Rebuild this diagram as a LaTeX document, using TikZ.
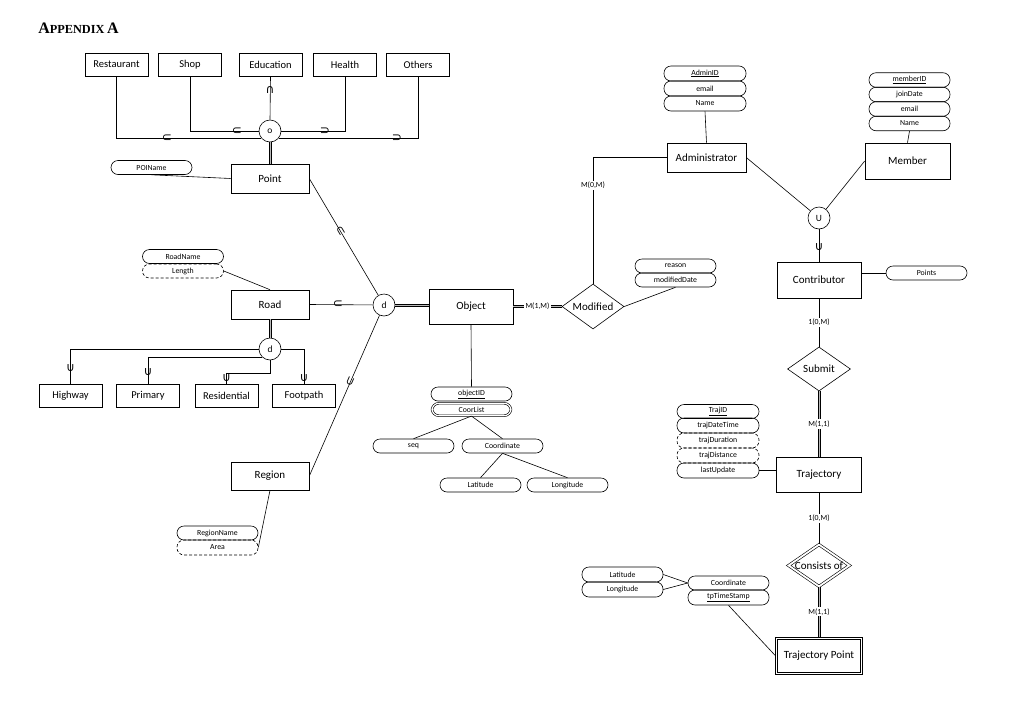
\documentclass[tikz,border=0pt]{standalone}
\usepackage{fontspec}
\setmainfont{Carlito}
\newfontfamily\titlefont{Liberation Serif}
\newfontfamily\symfont{DejaVu Sans}
\usetikzlibrary{shapes.geometric,calc}
\begin{document}
\begin{tikzpicture}[x=1pt,y=-1pt, line width=0.6pt,
 ent/.style={draw, rectangle, inner sep=0pt, font=\fontsize{11}{12}\selectfont},
 cat/.style={ent, minimum width=63pt, minimum height=23pt, font=\fontsize{10.5}{12}\selectfont},
 attr/.style={draw, rounded corners=7pt, inner sep=0pt, minimum width=81pt, minimum height=14pt, font=\fontsize{7.8}{9}\selectfont},
 dattr/.style={attr, densely dashed},
 spc/.style={draw, circle, minimum size=22pt, inner sep=0pt, font=\fontsize{9.5}{10}\selectfont},
 rel/.style={draw, diamond, inner sep=0pt, minimum width=62pt, minimum height=45pt},
 dblV/.style={draw=none,
   postaction={draw=gray!55, line width=1.6pt},
   postaction={draw, transform canvas={xshift=-1.1pt}},
   postaction={draw, transform canvas={xshift=1.1pt}}},
 dblH/.style={draw=none,
   postaction={draw=gray!55, line width=1.6pt},
   postaction={draw, transform canvas={yshift=-1.1pt}},
   postaction={draw, transform canvas={yshift=1.1pt}}},
 card/.style={fill=white, inner sep=1.2pt, font=\fontsize{7.8}{9}\selectfont},
 sym/.style={inner sep=0pt, font=\symfont\fontsize{12}{12}\selectfont},
]
\useasboundingbox (0,0) rectangle (1036,726);

% title
\node[anchor=base west, inner sep=0pt, font=\titlefont\bfseries] (title) at (38,33)
  {{\fontsize{16}{16}\selectfont A}{\fontsize{12.3}{13}\selectfont PPENDIX} {\fontsize{16}{16}\selectfont A}};

% ---------- POI categories ----------
\node[cat] (Restaurant) at (116.5,64.5) {Restaurant};
\node[cat] (Shop) at (190,64.5) {Shop};
\node[cat] (Education) at (270.5,64.5) {Education};
\node[cat] (Health) at (345,64.5) {Health};
\node[cat] (Others) at (418,64.5) {Others};
\node[spc] (oC) at (270,131) {o};
\node[ent, minimum width=78pt, minimum height=29pt] (Point) at (270,178.5) {Point};
\node[attr] (POIName) at (151.5,167.5) {POIName};

\draw (Restaurant.south) |- (oC.220);
\draw (Shop.south) |- (oC.west);
\draw (Education.south) -- (oC.north);
\draw (Health.south) |- (oC.east);
\draw (Others.south) |- (oC.320);
\node[sym] (s1) at (167,138) {⊂};
\node[sym] (s2) at (237,131) {⊂};
\node[sym] (s3) at (270,90) {∩};
\node[sym] (s4) at (325,131) {⊃};
\node[sym] (s5) at (397,138) {⊃};
\path[dblV] (oC.south) -- (Point.north);
\draw (POIName.south) -- (Point.west);

% ---------- Object disjoint ----------
\node[spc] (dO) at (384,305) {d};
\node[ent, minimum width=78pt, minimum height=29pt] (Road) at (270,304.5) {Road};
\node[ent, minimum width=78pt, minimum height=28pt] (Region) at (270,476) {Region};
\node[ent, minimum width=84pt, minimum height=35pt] (Object) at (471,306.5) {Object};

\draw (Point.east) -- node[sym, sloped, pos=0.45] {⊂} (dO);
\draw (Road.east) -- node[sym, pos=0.45] {⊂} (dO);
\draw (Region.east) -- node[sym, sloped, pos=0.59] {⊂} (dO);
\path[dblH] (dO.east) -- (dO.east -| Object.west);

% Road attributes and subclasses
\node[attr] (RoadName) at (183,256.5) {RoadName};
\node[dattr] (Length) at (183,271) {Length};
\draw (Length.east) -- (Road.north);
\node[spc] (d2) at (270,349) {d};
\path[dblV] (Road.south) -- (d2.north);
\node[cat] (Highway) at (70.5,395.5) {Highway};
\node[cat] (Primary) at (148,395.5) {Primary};
\node[cat] (Residential) at (226.5,395.5) {Residential};
\node[cat] (Footpath) at (304,395.5) {Footpath};
\draw (d2.west) -| (Highway.north);
\draw (d2.227) -| (Primary.north);
\draw (d2.south) -- ++(0,13) -| (Residential.north);
\draw (d2.east) -| (Footpath.north);
\node[sym] (u1) at (70.5,368) {∪};
\node[sym] (u2) at (148,372) {∪};
\node[sym] (u3) at (226.5,378) {∪};
\node[sym] (u4) at (304,378) {∪};

% Region attributes
\node[attr] (RegionName) at (217.5,533) {RegionName};
\node[dattr, minimum height=15pt] (Area) at (217.5,547.5) {Area};
\draw (Region.south) -- (Area.east);

% Object attributes
\node[attr] (objectID) at (471.5,394) {\underline{objectID}};
\node[attr, double, double distance=1.2pt, minimum height=12.5pt, minimum width=79pt] (CoorList) at (471.5,409.5) {CoorList};
\draw (Object.south) -- (objectID.north);
\node[attr] (seq) at (413.5,446) {seq};
\node[attr] (Coordinate) at (502.5,446) {Coordinate};
\draw (CoorList.south) -- (seq.north);
\draw (CoorList.south) -- (Coordinate.north);
\node[attr] (Latitude) at (480.5,485) {Latitude};
\node[attr] (Longitude) at (567.5,485) {Longitude};
\draw (Coordinate.south) -- (Latitude.north);
\draw (Coordinate.south) -- (Longitude.north);

% ---------- Modified ----------
\node[rel, label={[font=\fontsize{11}{12}\selectfont]center:Modified}] (Modified) at (593,306.5) {};
\path[dblH] (Object.east) -- (Modified.west);
\path (Object.east) -- node[card] {M(1,M)} (Modified.west);
\node[attr] (reason) at (675.5,266) {reason};
\node[attr] (modifiedDate) at (675.5,280) {modifiedDate};
\draw (Modified.east) -- (modifiedDate.south);

% ---------- Administrator ----------
\node[ent, minimum width=79pt, minimum height=29pt] (Administrator) at (706.5,157.5) {Administrator};
\node[attr, minimum width=82pt, minimum height=15pt] (AdminID) at (705,73.5) {\underline{AdminID}};
\node[attr, minimum width=82pt, minimum height=15pt] (Aemail) at (705,88.5) {email};
\node[attr, minimum width=82pt, minimum height=15pt] (AName) at (705,103.5) {Name};
\draw (AName.south) -- (Administrator.north);
\draw (Modified.north) |- node[card, pos=0.39] {M(0,M)} (Administrator.west);

% ---------- Member ----------
\node[ent, minimum width=85pt, minimum height=36pt] (Member) at (907.5,161) {Member};
\node[attr, minimum height=14.5pt] (memberID) at (909.5,80) {\underline{memberID}};
\node[attr, minimum height=14.5pt] (joinDate) at (909.5,94.5) {joinDate};
\node[attr, minimum height=14.5pt] (Memail) at (909.5,109) {email};
\node[attr, minimum height=14.5pt] (MName) at (909.5,123.5) {Name};
\draw (MName.south) -- (Member.north);

% ---------- Contributor (union) ----------
\node[spc] (UC) at (819,218) {U};
\draw (Administrator.east) -- (UC);
\draw (Member.west) -- (UC);
\node[ent, minimum width=84pt, minimum height=36pt] (Contributor) at (819,280) {Contributor};
\draw (UC.south) -- node[sym, pos=0.55] {∪} (Contributor.north);
\node[attr] (Points) at (926.5,273) {Points};
\draw (Points.west -| Contributor.east) -- (Points.west);

% ---------- Submit ----------
\node[rel, minimum width=63pt, minimum height=44pt, label={[font=\fontsize{11}{12}\selectfont]center:Submit}] (Submit) at (819,369) {};
\draw (Contributor.south) -- node[card] {1(0,M)} (Submit.north);

% ---------- Trajectory ----------
\node[ent, minimum width=85pt, minimum height=35pt] (Trajectory) at (819,474.5) {Trajectory};
\path[dblV] (Submit.south) -- (Trajectory.north);
\path (Submit.south) -- node[card] {M(1,1)} (Trajectory.north);
\node[attr, minimum width=82pt] (TrajID) at (718,411.5) {\underline{TrajID}};
\node[attr, minimum width=82pt, minimum height=15pt] (trajDateTime) at (718,425.5) {trajDateTime};
\node[dattr, minimum width=82pt, minimum height=15pt] (trajDuration) at (718,440.5) {trajDuration};
\node[dattr, minimum width=82pt, minimum height=15pt] (trajDistance) at (718,455.5) {trajDistance};
\node[attr, minimum width=82pt, minimum height=15pt] (lastUpdate) at (718,470.5) {lastUpdate};
\draw (lastUpdate.east) -- (lastUpdate.east -| Trajectory.west);

% ---------- Consists of ----------
\node[rel, double, double distance=1.8pt, minimum width=61pt, minimum height=42pt, label={[font=\fontsize{11}{12}\selectfont]center:Consists of}] (Consists) at (819,565.5) {};
\draw (Trajectory.south) -- node[card] {1(0,M)} (Consists.north);
\node[ent, minimum width=87pt, minimum height=37pt] (TrajPoint) at (819,655.5) {Trajectory Point};
\draw ([shift={(2.5pt,-2.5pt)}]TrajPoint.north west) rectangle ([shift={(-2.5pt,2.5pt)}]TrajPoint.south east);
\path[dblV] (Consists.south) -- (TrajPoint.north);
\path (Consists.south) -- node[card] {M(1,1)} (TrajPoint.north);

\node[attr, minimum height=15pt] (Latitude2) at (622.5,574.5) {Latitude};
\node[attr, minimum height=15pt] (Longitude2) at (622.5,589.5) {Longitude};
\node[attr] (Coordinate2) at (728.5,583) {Coordinate};
\node[attr, minimum height=15pt] (tpTimeStamp) at (728.5,597.5) {\underline{tpTimeStamp}};
\draw (Latitude2.east) -- (Coordinate2.west);
\draw (Longitude2.east) -- (Coordinate2.west);
\draw (tpTimeStamp.south) -- (TrajPoint.west);
\end{tikzpicture}
\end{document}
